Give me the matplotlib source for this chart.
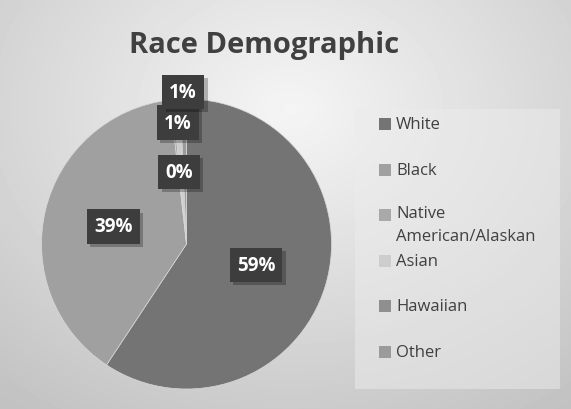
import numpy as np
import matplotlib.pyplot as plt
import matplotlib.patheffects as pe
from matplotlib.patches import Rectangle

# Race breakdown (percent)
categories = ["White", "Black", "Native\nAmerican/Alaskan", "Asian", "Hawaiian", "Other"]
values = [59.3, 38.9, 0.3, 0.7, 0.1, 0.7]
pct_labels = ["59%", "39%", "0%", "1%", "", "1%"]  # Hawaiian label is hidden in the original
colors = ["#747474", "#a0a0a0", "#a9a9a9", "#cdcdcd", "#8f8f8f", "#9b9b9b"]
label_radius = [0.5, 0.52, 0.5, 0.84, 0.5, 1.05]

W, H = 571, 410
fig = plt.figure(figsize=(W / 100, H / 100), dpi=100)

# background gradient
bg = fig.add_axes([0, 0, 1, 1], zorder=-10)
yy, xx = np.mgrid[0:H, 0:W]
d = np.sqrt(((xx - 290) / 420.0) ** 2 + ((yy - 110) / 330.0) ** 2)
shade = np.clip(0.96 - 0.18 * d, 0.76, 0.97)
bg.imshow(shade, cmap="gray", vmin=0, vmax=1, extent=[0, W, H, 0], aspect="auto")
bg.add_patch(Rectangle((355, 110), 205, 280, facecolor="#ececec", alpha=0.5, edgecolor="none"))
bg.set_xlim(0, W)
bg.set_ylim(H, 0)
bg.axis("off")

fig.text(264 / W, 1 - 46 / H, "Race Demographic", ha="center", va="center",
         fontsize=21, fontweight="bold", color="#404040", family="Open Sans")

# pie
cx, cy, r = 186.5, 245, 145
ax = fig.add_axes([(cx - r) / W, (H - cy - r) / H, 2 * r / W, 2 * r / H])
wedges, _ = ax.pie(values, colors=colors, startangle=90, counterclock=False,
                   radius=1, wedgeprops=dict(edgecolor="#d8d8d8", linewidth=0.5))
ax.set_xlim(-1, 1)
ax.set_ylim(-1, 1)
ax.set_aspect("equal")
ax.axis("off")

for w, lab, lr in zip(wedges, pct_labels, label_radius):
    if not lab:
        continue
    ang = np.deg2rad((w.theta1 + w.theta2) / 2)
    t = ax.text(lr * np.cos(ang), lr * np.sin(ang), lab, ha="center", va="center",
                fontsize=13.5, fontweight="bold", color="white", family="Open Sans", zorder=5,
                bbox=dict(boxstyle="square,pad=0.38", facecolor="#3d3d3d", edgecolor="none"))
    t.get_bbox_patch().set_path_effects([
        pe.SimplePatchShadow(offset=(2.5, -2.5), shadow_rgbFace="black", alpha=0.25), pe.Normal()])

# legend
for i, (cat, col) in enumerate(zip(categories, colors)):
    y = 125 + i * 45.6
    fig.patches.append(Rectangle((379 / W, 1 - (y + 6) / H), 12 / W, 12 / H,
                                 transform=fig.transFigure, facecolor=col, edgecolor="none"))
    if "\n" in cat:
        fig.text(396 / W, 1 - (y - 10) / H, cat, ha="left", va="top",
                 fontsize=12, color="#404040", family="Open Sans", linespacing=1.55)
    else:
        fig.text(396 / W, 1 - y / H, cat, ha="left", va="center",
                 fontsize=12, color="#404040", family="Open Sans")

fig.savefig("out.png", dpi=100)
